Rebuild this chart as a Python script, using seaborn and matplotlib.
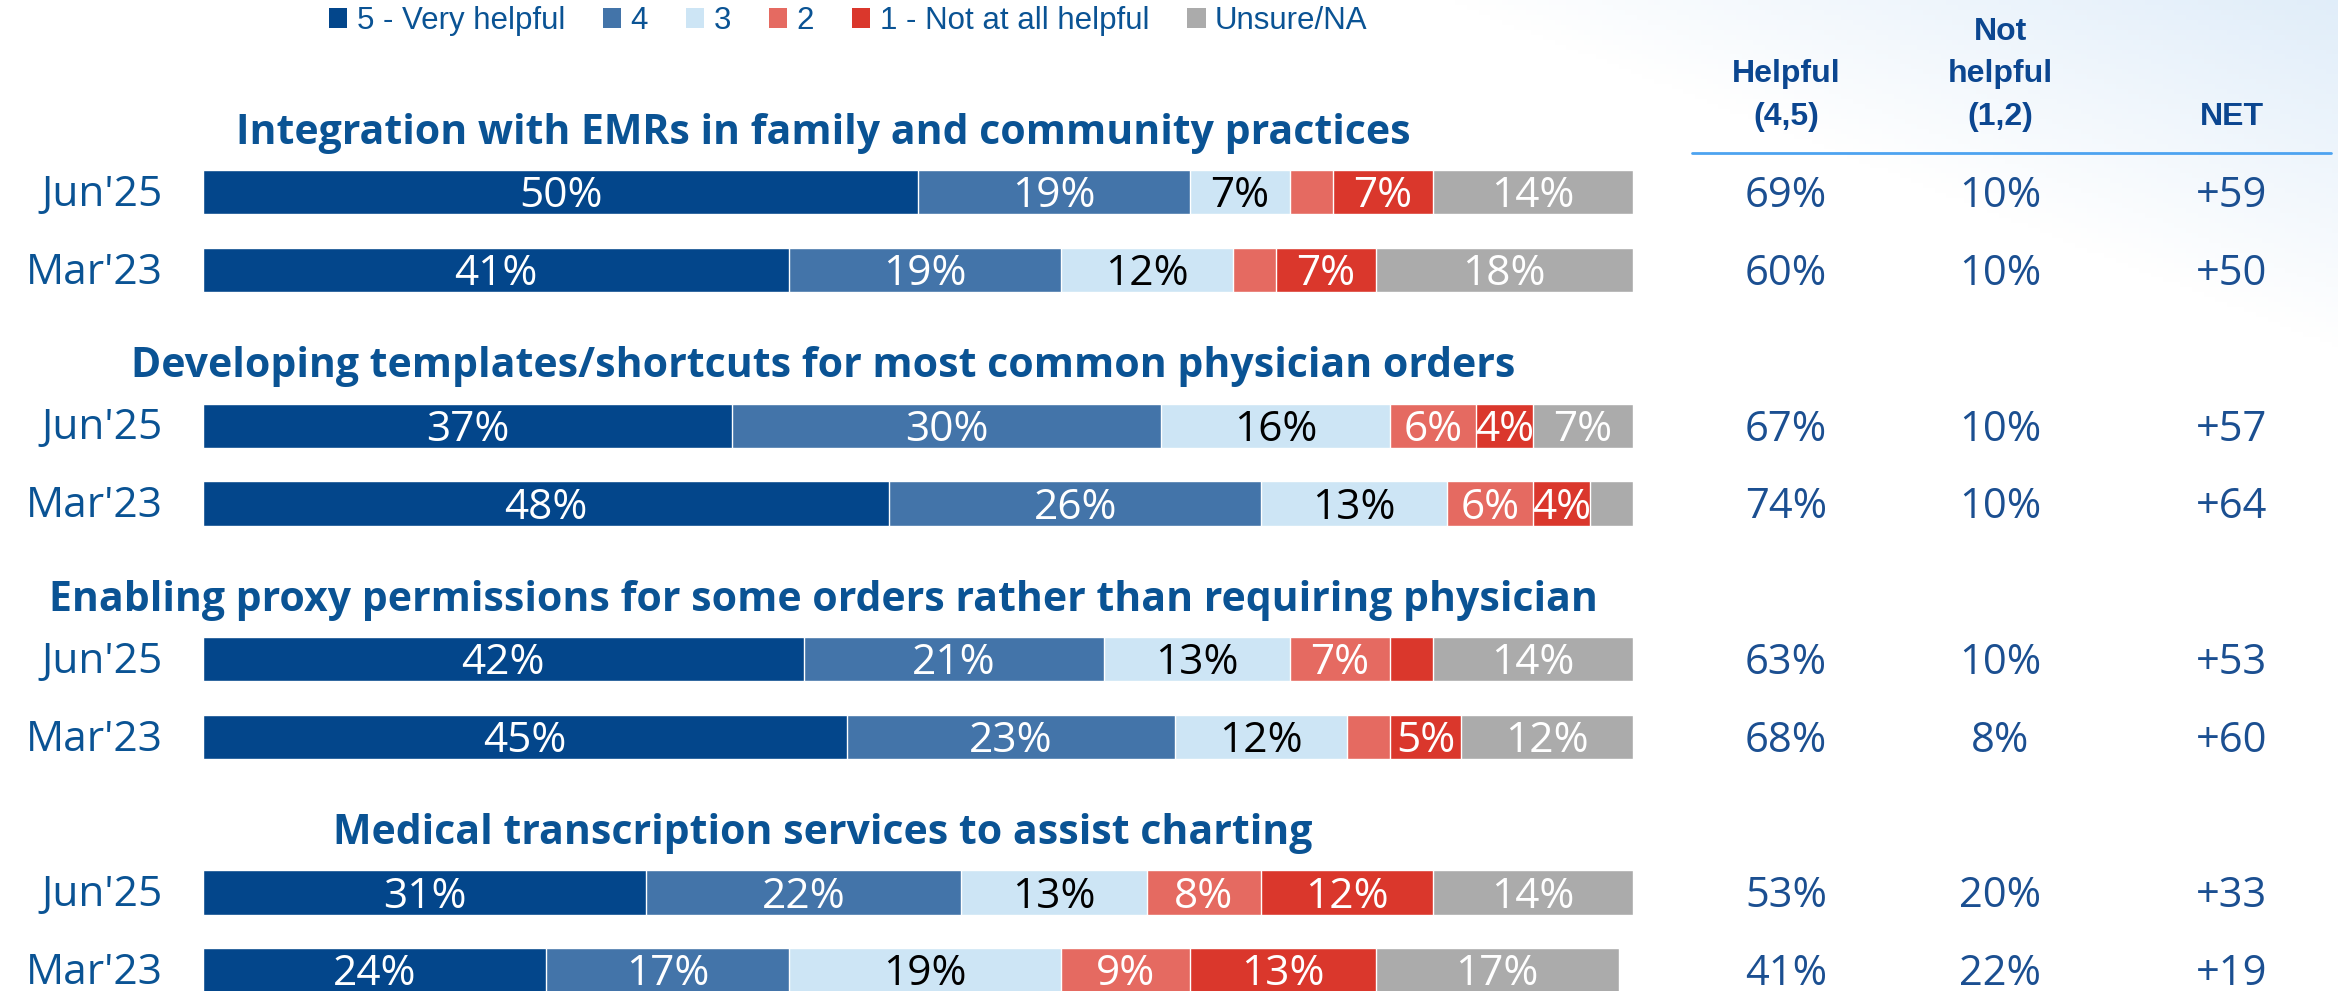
import numpy as np
import pandas as pd
import seaborn as sns
import matplotlib.pyplot as plt
from matplotlib.patches import Patch
from matplotlib.transforms import blended_transform_factory

# ---- data ----
items = [
    "Integration with EMRs in family and community practices",
    "Developing templates/shortcuts for most common physician orders",
    "Enabling proxy permissions for some orders rather than requiring physician",
    "Medical transcription services to assist charting",
]
waves = ["Jun'25", "Mar'23"]
levels = ["5 - Very helpful", "4", "3", "2", "1 - Not at all helpful", "Unsure/NA"]

very_helpful = [50, 41, 37, 48, 42, 45, 31, 24]
four = [19, 19, 30, 26, 21, 23, 22, 17]
three = [7, 12, 16, 13, 13, 12, 13, 19]
two = [3, 3, 6, 6, 7, 3, 8, 9]
not_at_all = [7, 7, 4, 4, 3, 5, 12, 13]
unsure = [14, 18, 7, 3, 14, 12, 14, 17]

helpful_45 = [69, 60, 67, 74, 63, 68, 53, 41]
not_helpful_12 = [10, 10, 10, 10, 10, 8, 20, 22]

level_colors = ["#03468B", "#4374A9", "#CDE5F5", "#E56A61", "#DA372C", "#ABABAB"]
label_colors = ["white", "white", "black", "white", "white", "white"]
title_color = "#0A5394"
value_color = "#1B4F91"

sns.set_theme(style="white")
plt.rcParams["font.family"] = ["Open Sans", "DejaVu Sans"]

# slot layout: a title slot then two wave rows per item
slot_order = []
row_slots = []
for g, item in enumerate(items):
    slot_order.append(f"title{g}")
    for w in waves:
        slot_order.append(f"{g}|{w}")
        row_slots.append(f"{g}|{w}")

series = [very_helpful, four, three, two, not_at_all, unsure]
records = []
for i, slot in enumerate(row_slots):
    cum = 0
    for lv, vals in zip(levels, series):
        cum += vals[i]
        records.append({"slot": slot, "level": lv, "value": vals[i], "cum": cum})
df = pd.DataFrame(records)

W, H = 2338, 991
fig = plt.figure(figsize=(W / 100, H / 100), dpi=100)

# soft blue wash in the top-right corner
bg = fig.add_axes([0, 0, 1, 1], zorder=-5)
xx, yy = np.meshgrid(np.linspace(0, 1, 400), np.linspace(0, 1, 200))
alpha = np.clip((xx - 0.62) / 0.38 - yy / 0.35, 0, 1) * 0.85
img = np.zeros((200, 400, 4))
img[..., 0], img[..., 1], img[..., 2] = 0.86, 0.92, 0.975
img[..., 3] = alpha
bg.imshow(img, extent=[0, 1, 1, 0], aspect="auto")
bg.set_xlim(0, 1)
bg.set_ylim(1, 0)
bg.axis("off")

left_px, right_px = 203, 1633
ax = fig.add_axes([left_px / W, 0, (right_px - left_px) / W, 1])
ax.patch.set_alpha(0)

# stacked bars: draw cumulative totals from the widest down
for lv, col in reversed(list(zip(levels, level_colors))):
    sub = df[df["level"] == lv]
    sns.barplot(data=sub, x="cum", y="slot", order=slot_order, orient="h",
                color=col, width=0.57, errorbar=None, saturation=1, ax=ax)

slot0_px, slot_step = 114.5, 77.8
ax.set_xlim(0, 100)
ax.set_ylim((H - slot0_px) / slot_step, -slot0_px / slot_step)
ax.axis("off")


def cap_shift(size):
    # half the cap height (Open Sans ~0.714 em) in slot units, to centre caps on a row
    return 0.5 * 0.714 * size * 100 / 72 / slot_step


pos = {s: k for k, s in enumerate(slot_order)}
for _, r in df.iterrows():
    if r["value"] > 3:
        k = levels.index(r["level"])
        ax.text(r["cum"] - r["value"] / 2, pos[r["slot"]] + cap_shift(30.5), f"{r['value']}%",
                ha="center", va="baseline", fontsize=30.5, color=label_colors[k])

fx = blended_transform_factory(fig.transFigure, ax.transData)
for g, item in enumerate(items):
    ax.text(823 / W, pos[f"title{g}"] + 0.18, item, transform=fx, ha="center",
            va="center_baseline", fontsize=29.5, fontweight="bold", color=title_color)

for i, slot in enumerate(row_slots):
    y = pos[slot]
    wave = slot.split("|")[1]
    ax.text(163 / W, y + cap_shift(30.5) - 1.5 / slot_step, wave, transform=fx, ha="right",
            va="baseline", fontsize=30.5, color=title_color)
    net = helpful_45[i] - not_helpful_12[i]
    for xpx, txt in [(1786, f"{helpful_45[i]}%"), (2000, f"{not_helpful_12[i]}%"),
                     (2232, f"+{net}")]:
        ax.text(xpx / W, y + cap_shift(30), txt, transform=fx, ha="center", va="baseline",
                fontsize=30, color=value_color)

# table header
for xpx, txt in [(1786, "Helpful\n(4,5)"), (2000, "Not\nhelpful\n(1,2)"), (2232, "NET")]:
    fig.text(xpx / W, 1 - 132 / H, txt, ha="center", va="bottom", multialignment="center",
             fontsize=23, fontweight="bold", color="#0B4690", linespacing=1.55,
             family=["Liberation Sans", "DejaVu Sans"])
fig.add_artist(plt.Line2D([1692 / W, 2331 / W], [1 - 153 / H, 1 - 153 / H],
                          color="#4DA3F0", lw=2))

handles = [Patch(facecolor=c, edgecolor="none", label=l) for l, c in zip(levels, level_colors)]
fig.legend(handles=handles, loc="center", bbox_to_anchor=(848 / W, 1 - 21 / H), ncol=6,
           frameon=False, prop={"family": ["Liberation Sans", "DejaVu Sans"], "size": 22.5},
           labelcolor=title_color, handlelength=0.6, handleheight=0.6,
           handletextpad=0.3, columnspacing=1.2, borderpad=0)

fig.savefig("out.png", dpi=100)
